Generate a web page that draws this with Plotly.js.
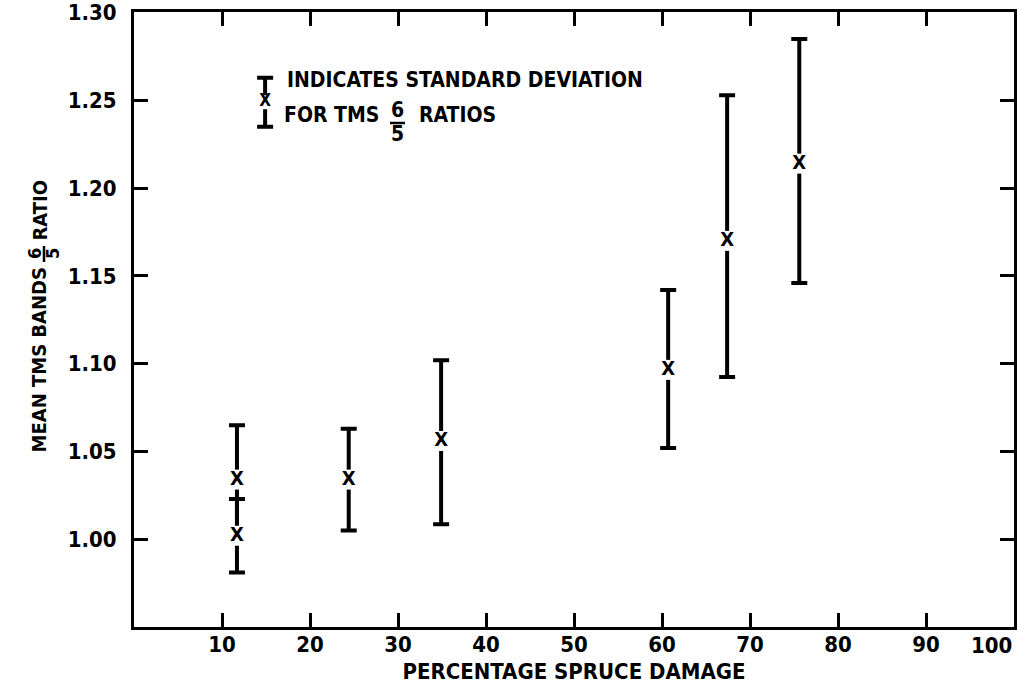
<!DOCTYPE html>
<html>
<head>
<meta charset="utf-8">
<script src="https://cdn.plot.ly/plotly-3.0.1.min.js"></script>
<style>
  html, body { margin: 0; padding: 0; background: #ffffff; }
  #chart { width: 1017px; height: 687px; }
</style>
</head>
<body>
<div id="chart"></div>
<script>
// ---- data ----
const damagePct   = [11.7, 11.7, 24.4, 34.9, 60.7, 67.4, 75.6];
const meanRatio   = [1.034, 1.002, 1.034, 1.056, 1.0965, 1.170, 1.214];
const upperRatio  = [1.065, 1.023, 1.063, 1.102, 1.142, 1.253, 1.285];
const lowerRatio  = [1.003, 0.981, 1.005, 1.0085, 1.052, 1.0925, 1.146];

const xTickVals   = [10, 20, 30, 40, 50, 60, 70, 80, 90, 100];
const xTickText   = ['10', '20', '30', '40', '50', '60', '70', '80', '90', ''];
const xLastLabel  = '100';
const yTickVals   = [1.00, 1.05, 1.10, 1.15, 1.20, 1.25, 1.30];
const yTickText   = ['1.00', '1.05', '1.10', '1.15', '1.20', '1.25', '1.30'];

// key symbol (legend) : x, mean, sd
const keyX  = [14.9];
const keyY  = [1.249];
const keySD = [0.014];

// ---- derived ----
const errPlus  = upperRatio.map((u, i) => u - meanRatio[i]);
const errMinus = meanRatio.map((m, i) => m - lowerRatio[i]);

const FONT = 'DejaVu Sans Condensed, Liberation Sans Narrow, Arial Narrow, sans-serif';
const INK = '#000000';

// plot area geometry helpers (paper coords from pixel positions)
const L = 134, T = 12, W = 880, H = 615;
const px = p => (p - L) / W;
const py = p => (T + H - p) / H;

const errStyle = { color: INK, thickness: 4, width: 8 };

const traces = [
  {
    type: 'scatter', mode: 'markers',
    x: damagePct, y: meanRatio,
    marker: { size: 1, color: 'rgba(0,0,0,0)' },
    error_y: Object.assign({ type: 'data', symmetric: false, array: errPlus, arrayminus: errMinus }, errStyle),
    hoverinfo: 'skip', showlegend: false
  },
  {
    type: 'scatter', mode: 'markers+text',
    x: damagePct, y: meanRatio,
    marker: { symbol: 'square', size: 20, color: '#ffffff', line: { width: 0 } },
    text: damagePct.map(() => 'X'),
    textposition: 'middle center',
    textfont: { family: FONT, size: 20, color: INK, weight: 'bold' },
    showlegend: false
  },
  {
    type: 'scatter', mode: 'markers',
    x: keyX, y: keyY,
    marker: { size: 1, color: 'rgba(0,0,0,0)' },
    error_y: Object.assign({ type: 'data', array: keySD }, errStyle),
    hoverinfo: 'skip', showlegend: false
  },
  {
    type: 'scatter', mode: 'markers+text',
    x: keyX, y: keyY,
    marker: { symbol: 'square', size: 14, color: '#ffffff', line: { width: 0 } },
    text: ['X'], textposition: 'middle center',
    textfont: { family: FONT, size: 17, color: INK, weight: 'bold' },
    showlegend: false
  }
];

const axisCommon = {
  showgrid: false, zeroline: false,
  showline: true, linecolor: INK, linewidth: 3, mirror: 'ticks',
  ticks: 'inside', ticklen: 14, tickwidth: 3, tickcolor: INK,
  ticklabeloverflow: 'allow',
  tickfont: { family: FONT, size: 22, color: INK, weight: 'bold' }
};

const annText = (text, x, y, opts) => Object.assign({
  text, xref: 'paper', yref: 'paper', x: px(x), y: py(y),
  showarrow: false, xanchor: 'left', yanchor: 'middle',
  font: { family: FONT, size: 21, color: INK, weight: 'bold' }
}, opts || {});

const titleFont = { family: FONT, size: 20, color: INK, weight: 'bold' };

const layout = {
  width: 1017, height: 687,
  margin: { l: L, r: 3, t: T, b: 687 - T - H },
  paper_bgcolor: '#ffffff', plot_bgcolor: '#ffffff',
  showlegend: false,
  xaxis: Object.assign({}, axisCommon, {
    range: [0, 100], tickmode: 'array', tickvals: xTickVals, ticktext: xTickText,
    ticklabelstandoff: -4,
    title: { text: 'PERCENTAGE SPRUCE DAMAGE', standoff: 8,
             font: { family: FONT, size: 22, color: INK, weight: 'bold' } }
  }),
  yaxis: Object.assign({}, axisCommon, {
    range: [0.95, 1.3004], tickmode: 'array', tickvals: yTickVals, ticktext: yTickText,
    ticklabelstandoff: 10
  }),
  annotations: [
    annText(xLastLabel, 1014, 645, { xanchor: 'right', font: { family: FONT, size: 22, color: INK, weight: 'bold' } }),
    annText('INDICATES STANDARD DEVIATION', 285, 80),
    annText('FOR TMS', 282, 115),
    annText('6', 397, 110, { xanchor: 'center' }),
    annText('5', 397, 134, { xanchor: 'center' }),
    annText('RATIOS', 417, 115),
    // y-axis title pieces (rotated)
    annText('MEAN TMS BANDS', 38, 266, { xanchor: 'center', yanchor: 'top', textangle: -90, font: titleFont }),
    annText('RATIO', 39, 243, { xanchor: 'center', yanchor: 'bottom', textangle: -90, font: titleFont }),
    annText('6', 34, 254, { xanchor: 'center', textangle: -90, font: { family: FONT, size: 18, color: INK, weight: 'bold' } }),
    annText('5', 52, 254, { xanchor: 'center', textangle: -90, font: { family: FONT, size: 18, color: INK, weight: 'bold' } })
  ],
  shapes: [
    { type: 'line', xref: 'paper', yref: 'paper', x0: px(390), x1: px(405), y0: py(123), y1: py(123), line: { color: INK, width: 2.5 } },
    { type: 'line', xref: 'paper', yref: 'paper', x0: px(44), x1: px(44), y0: py(246), y1: py(262), line: { color: INK, width: 2.5 } }
  ]
};

Plotly.newPlot('chart', traces, layout, { staticPlot: true, displayModeBar: false });
</script>
</body>
</html>
